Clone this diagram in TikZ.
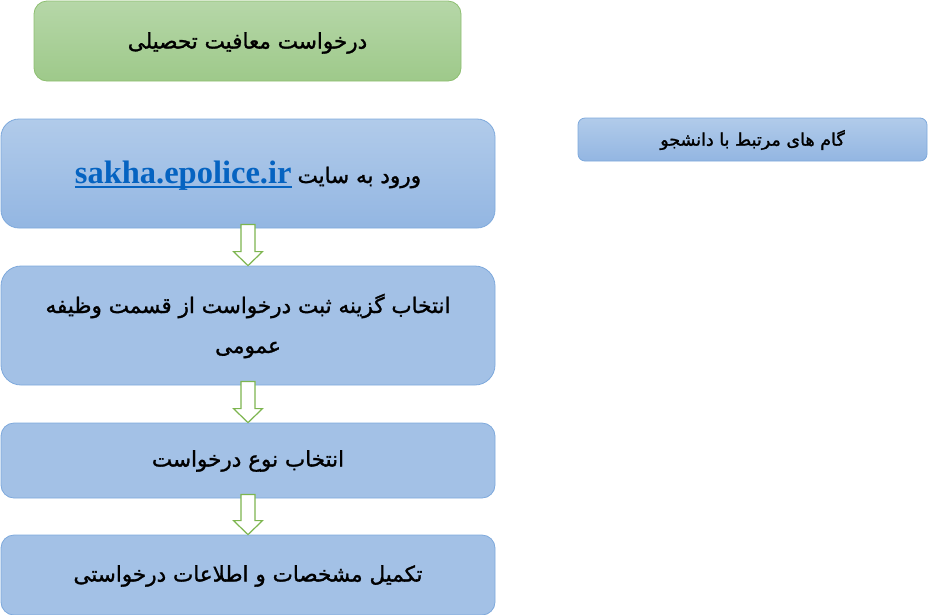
\documentclass[tikz,border=0pt]{standalone}
\usepackage{fontspec}
\usetikzlibrary{calc}
\setmainfont{Liberation Serif}
\newfontfamily\arabicfont[Script=Arabic, FakeBold=1.3]{DejaVu Sans}
\newfontfamily\linkfont{Liberation Serif}
\TeXXeTstate=1
\newcommand\thickul[1]{\setbox0\hbox{#1}\rlap{\rule[-5pt]{\wd0}{2pt}}\box0}
\definecolor{greenTop}{HTML}{B6D7A8}
\definecolor{greenBot}{HTML}{9EC98A}
\definecolor{greenEdge}{HTML}{8DBF70}
\definecolor{blueTop}{HTML}{B1CBEA}
\definecolor{blueBot}{HTML}{93B6E2}
\definecolor{blueFlat}{HTML}{A3C1E6}
\definecolor{blueEdge}{HTML}{7EA9DC}
\definecolor{arrowEdge}{HTML}{7DB54F}
\definecolor{linkBlue}{HTML}{0563C1}
\begin{document}
\begin{tikzpicture}[x=1pt,y=-1pt,
  box/.style={draw=blueEdge, line width=0.8pt, inner sep=0pt, align=center, text=black},
  gbox/.style={draw=greenEdge, line width=0.8pt, inner sep=0pt, align=center, top color=greenTop, bottom color=greenBot},
  gradblue/.style={top color=blueTop, bottom color=blueBot},
  flatblue/.style={fill=blueFlat},
  blockarrow/.style={draw=arrowEdge, fill=white, line width=1.2pt, line join=miter},
  fa/.style={font=\arabicfont\fontsize{21.5}{40}\selectfont, align=center}]
\useasboundingbox (0,0) rectangle (928,614);
% boxes
\node[gbox, minimum width=427pt, minimum height=80pt, rounded corners=13pt] (title) at (247.5,41) {};
\node[fa] (titletext) at (247.5,43) {\beginR درخواست معافیت تحصیلی\endR};

\node[box, gradblue, minimum width=494pt, minimum height=109pt, rounded corners=18pt] (b1) at (248,173.5) {};
\node[anchor=base, inner sep=0pt] (b1text) at (248,183) {\textcolor{linkBlue}{\linkfont\bfseries\fontsize{32.5}{36}\selectfont\thickul{sakha.epolice.ir}}\hspace{6pt}{\arabicfont\fontsize{21.5}{26}\selectfont\beginR ورود به سایت\endR}};

\node[box, flatblue, minimum width=494pt, minimum height=119pt, rounded corners=20pt] (b2) at (248,325.5) {};
\node[fa] (b2text) at (248,326) {\beginR انتخاب گزینه ثبت درخواست از قسمت وظیفه\endR\\\beginR عمومی\endR};

\node[box, flatblue, minimum width=494pt, minimum height=75pt, rounded corners=13pt] (b3) at (248,460.5) {};
\node[fa] (b3text) at (248,461) {\beginR انتخاب نوع درخواست\endR};

\node[box, flatblue, minimum width=494pt, minimum height=80pt, rounded corners=13pt] (b4) at (248,575) {};
\node[fa] (b4text) at (248,576) {\beginR تکمیل مشخصات و اطلاعات درخواستی\endR};

\node[box, gradblue, minimum width=349pt, minimum height=43pt, rounded corners=7pt] (side) at (752.5,139.5) {};
\node[font=\arabicfont\fontsize{17.5}{21}\selectfont] (sidetext) at (752.5,140) {\beginR گام های مرتبط با دانشجو\endR};

% block arrows
\foreach \s/\t in {b1/b2, b2/b3, b3/b4}{
  \draw[blockarrow] ($(\s.south)+(-7,-4)$) -- ($(\s.south)+(7,-4)$)
    -- ($(\t.north)+(7,-14)$) -- ($(\t.north)+(14.5,-14)$) -- (\t.north)
    -- ($(\t.north)+(-14.5,-14)$) -- ($(\t.north)+(-7,-14)$) -- cycle;
}
\end{tikzpicture}
\end{document}
